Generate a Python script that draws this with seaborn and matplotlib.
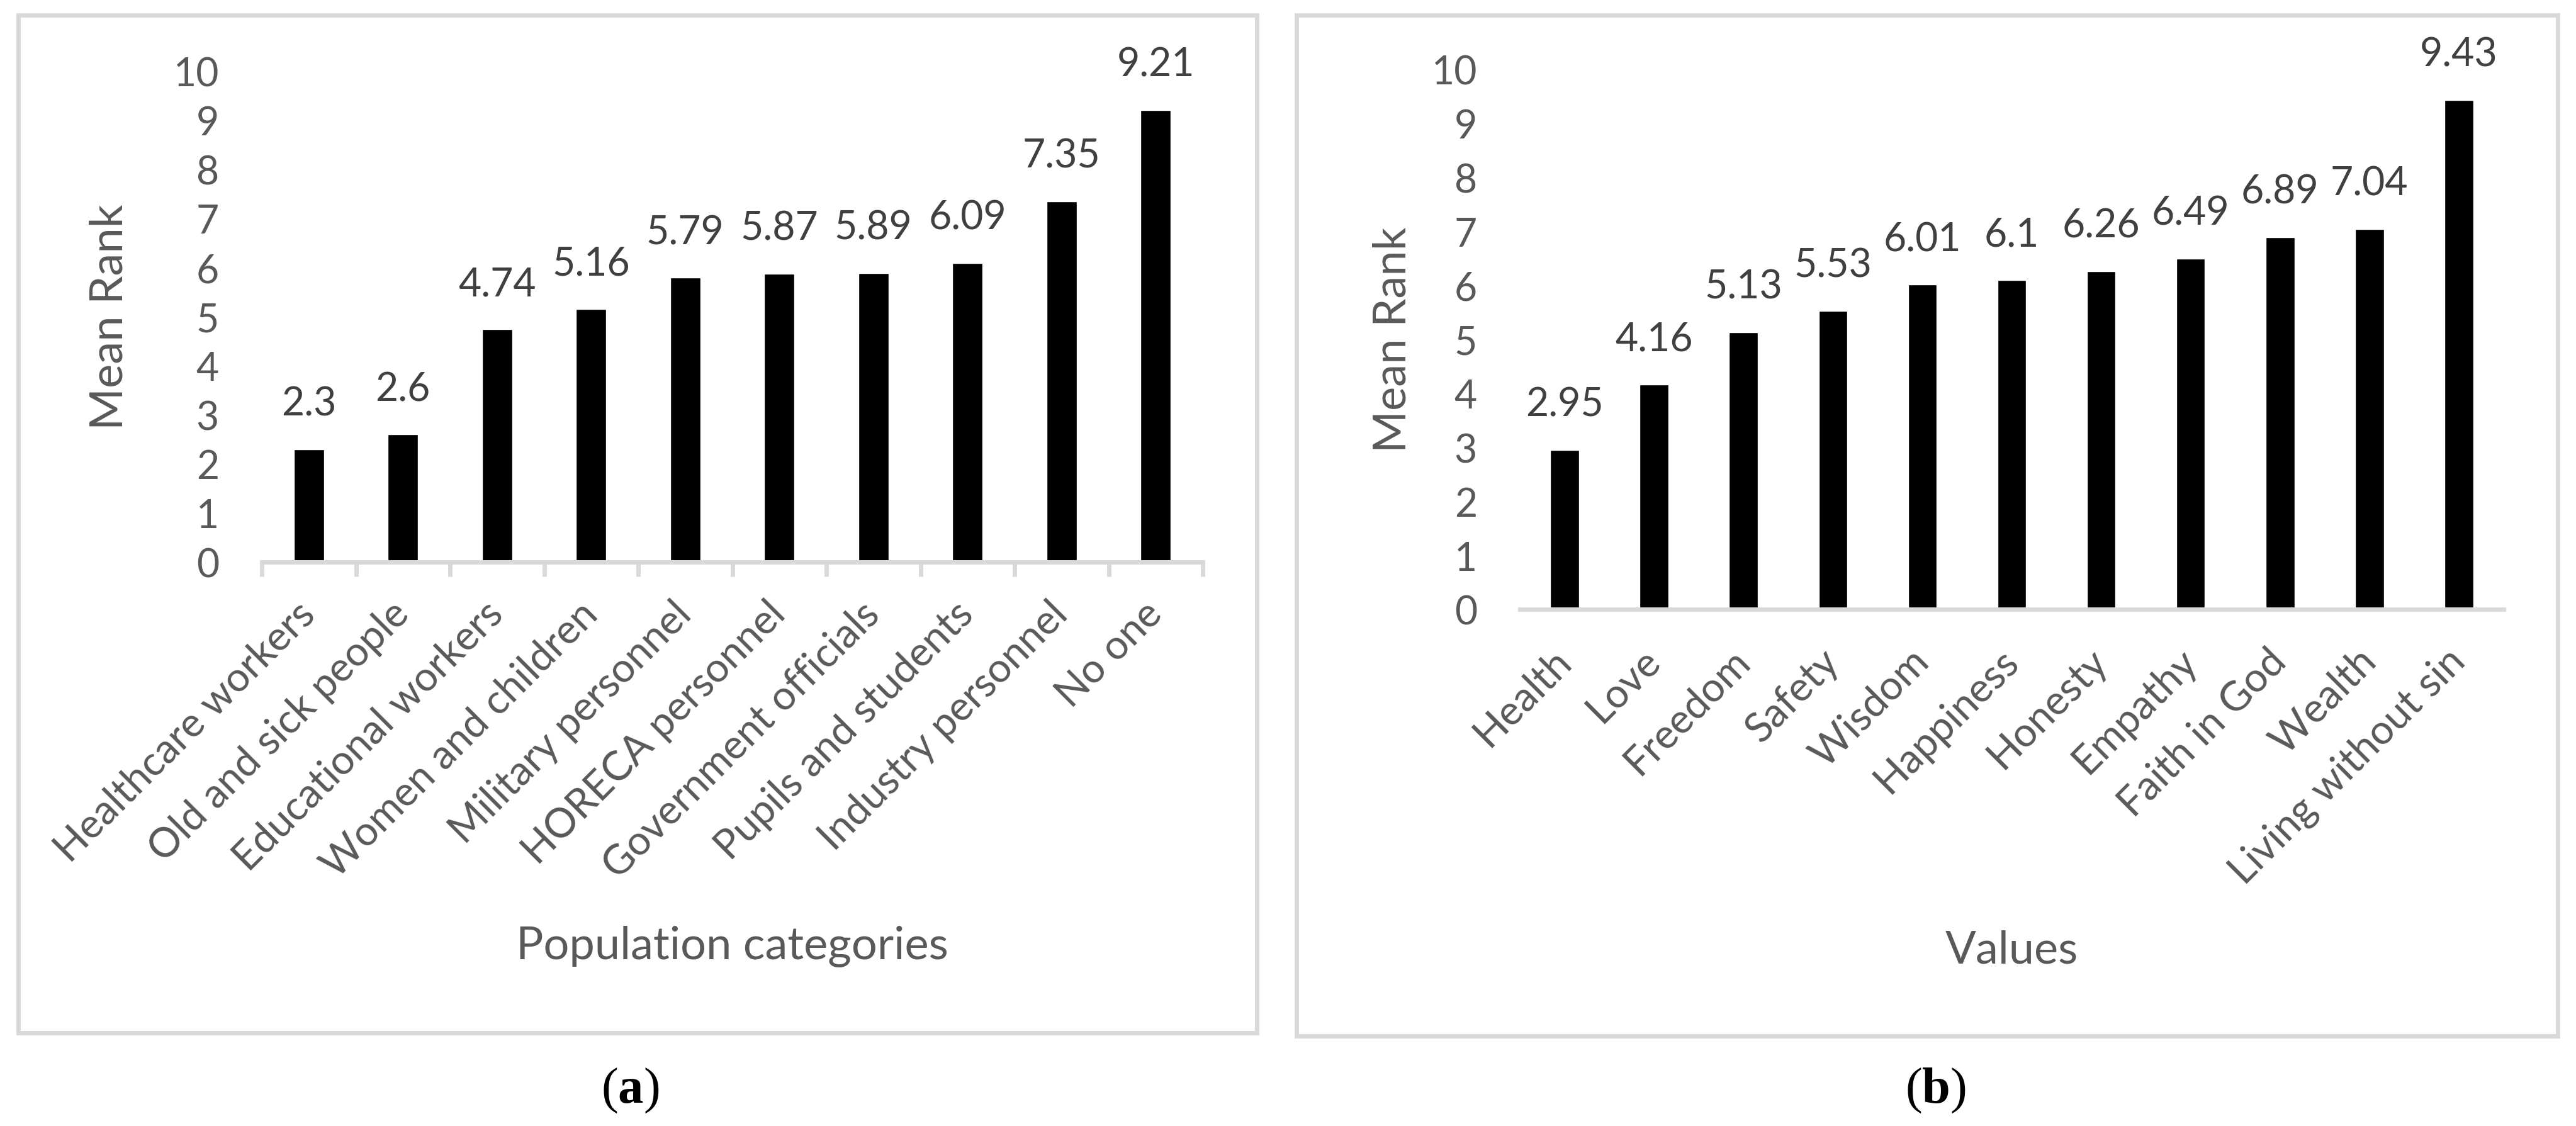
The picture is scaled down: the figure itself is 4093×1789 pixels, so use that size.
import numpy as np
import pandas as pd
import matplotlib
matplotlib.use("Agg")
import matplotlib.pyplot as plt
import seaborn as sns
from matplotlib.patches import Rectangle

# data
pop_categories = ["Healthcare workers", "Old and sick people", "Educational workers",
                  "Women and children", "Military personnel", "HORECA personnel",
                  "Government officials", "Pupils and students", "Industry personnel", "No one"]
pop_rank = [2.3, 2.6, 4.74, 5.16, 5.79, 5.87, 5.89, 6.09, 7.35, 9.21]

value_names = ["Health", "Love", "Freedom", "Safety", "Wisdom", "Happiness", "Honesty",
               "Empathy", "Faith in God", "Wealth", "Living without sin"]
value_rank = [2.95, 4.16, 5.13, 5.53, 6.01, 6.1, 6.26, 6.49, 6.89, 7.04, 9.43]

yticks = list(range(0, 11))

sns.set_theme(style="white")
plt.rcParams["font.family"] = ["Lato", "DejaVu Sans"]
plt.rcParams["mathtext.fontset"] = "custom"
plt.rcParams["mathtext.rm"] = "Liberation Serif"
plt.rcParams["mathtext.bf"] = "Liberation Serif:bold"

W, H = 4093, 1790
DPI = 100
fig = plt.figure(figsize=(W / DPI, H / DPI), dpi=DPI)

TXT = "#595959"
LBL = "#404040"
GRID = "#d9d9d9"


def fx(px):
    return px / W


def fy(py):
    return 1 - py / H


# panel frames
for x0, y0, x1, y1 in [(29, 25, 1997, 1642), (2060, 25, 4064, 1647)]:
    fig.patches.append(Rectangle((fx(x0), fy(y1)), fx(x1) - fx(x0), fy(y0) - fy(y1),
                                 transform=fig.transFigure, fill=False,
                                 edgecolor=GRID, linewidth=5))


def draw_panel(rect, cats, vals, xlabel, ylab_x, xlab_y, boundary_ticks):
    left, top, right, bottom = rect
    ax = fig.add_axes([fx(left), fy(bottom), fx(right) - fx(left), fy(top) - fy(bottom)])
    df = pd.DataFrame({"cat": cats, "val": vals})
    sns.barplot(data=df, x="cat", y="val", color="black", width=0.32,
                saturation=1, ax=ax)
    n = len(cats)
    ax.set_xlim(-0.5, n - 0.5)
    ax.set_ylim(0, 10)
    ax.set_yticks(yticks)
    ax.set_facecolor("none")
    for s in ["left", "right", "top"]:
        ax.spines[s].set_visible(False)
    ax.spines["bottom"].set_color(GRID)
    ax.spines["bottom"].set_linewidth(5)
    ax.tick_params(axis="y", length=0, pad=49, labelsize=45, labelcolor=TXT)
    ax.tick_params(axis="x", which="major", length=0, pad=52, labelsize=46.5, labelcolor=TXT)
    ax.set_xticks(range(n))
    ax.set_xticklabels(cats, rotation=45, ha="right", rotation_mode="anchor", va="center")
    if boundary_ticks:
        ax.set_xticks(np.arange(-0.5, n), minor=True)
        ax.tick_params(axis="x", which="minor", length=16.5, width=5, color=GRID,
                       direction="out", bottom=True)
    for i, v in enumerate(vals):
        ax.annotate(f"{v:g}", (i, v), xytext=(0, 39), textcoords="offset points",
                    ha="center", va="baseline", fontsize=45, color=LBL)
    ax.set_ylabel("Mean Rank", fontsize=52, color=TXT)
    ax.yaxis.label.set_va("center")
    ax.yaxis.set_label_coords(ylab_x, 0.5)
    ax.set_xlabel(xlabel, fontsize=52, color=TXT)
    ax.xaxis.label.set_va("baseline")
    ax.xaxis.set_label_coords(0.5, xlab_y)
    return ax


draw_panel((416, 114, 1911, 894), pop_categories, pop_rank, "Population categories",
           -0.162, -0.808, True)
draw_panel((2415, 111, 3978, 969), value_names, value_rank, "Values",
           -0.129, -0.654, False)

# sub-figure captions
for cx, letter in [(1001, "a"), (3075, "b")]:
    fig.text(fx(cx), fy(1752), r"$(\mathbf{" + letter + r"})$",
             ha="center", va="baseline", fontsize=58, color="black")

fig.savefig("out.png", dpi=DPI)
